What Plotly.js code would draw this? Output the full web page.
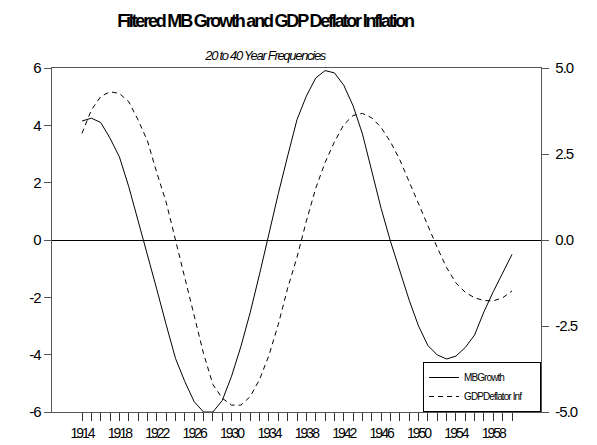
<!DOCTYPE html>
<html>
<head>
<meta charset="utf-8">
<script src="https://cdn.plot.ly/plotly-3.0.1.min.js"></script>
<style>
  html, body { margin: 0; padding: 0; background: #fff; }
  #chart { width: 597px; height: 445px; }
  /* tight, condensed lettering */
  #chart .gtitle { letter-spacing: -2.2px; }
  #chart .annotation-text { letter-spacing: -1.3px; }
  #chart .xtick text { letter-spacing: -2px; }
  #chart .ytick text, #chart .y2tick text { letter-spacing: -1px; }
  #chart .legendtext { letter-spacing: -0.9px; }
</style>
</head>
<body>
<div id="chart"></div>
<script>
// Annual observations, 1914-1960
const years = [
  1914, 1915, 1916, 1917, 1918, 1919, 1920, 1921, 1922, 1923,
  1924, 1925, 1926, 1927, 1928, 1929, 1930, 1931, 1932, 1933,
  1934, 1935, 1936, 1937, 1938, 1939, 1940, 1941, 1942, 1943,
  1944, 1945, 1946, 1947, 1948, 1949, 1950, 1951, 1952, 1953,
  1954, 1955, 1956, 1957, 1958, 1959, 1960
];

// Band-pass filtered monetary base growth (left axis)
const mbGrowth = [
  4.15, 4.25, 4.10, 3.55, 2.90, 1.86, 0.67, -0.49, -1.72, -2.95,
  -4.13, -4.94, -5.64, -6.00, -6.00, -5.60, -4.75, -3.71, -2.52, -1.18,
  0.25, 1.62, 2.93, 4.20, 5.02, 5.65, 5.91, 5.83, 5.40, 4.68,
  3.70, 2.40, 1.10, -0.05, -1.10, -2.10, -3.00, -3.68, -4.01, -4.15,
  -4.05, -3.75, -3.31, -2.50, -1.80, -1.15, -0.50
];

// Band-pass filtered GDP deflator inflation (right axis)
const gdpDeflatorInf = [
  3.10, 3.78, 4.17, 4.31, 4.26, 4.02, 3.49, 2.88, 1.96, 1.10,
  0.00, -1.10, -2.20, -3.30, -4.20, -4.60, -4.80, -4.80, -4.55, -4.05,
  -3.35, -2.45, -1.40, -0.50, 0.55, 1.50, 2.25, 2.85, 3.35, 3.62,
  3.68, 3.55, 3.27, 2.85, 2.33, 1.70, 1.05, 0.40, -0.22, -0.80,
  -1.25, -1.52, -1.68, -1.76, -1.77, -1.68, -1.48
];

// Axis ticks and their labels
const labelledYears = [1914, 1918, 1922, 1926, 1930, 1934, 1938, 1942, 1946, 1950, 1954, 1958];
const leftTicks = [-6, -4, -2, 0, 2, 4, 6];
const leftTickText = ['-6', '-4', '-2', '0', '2', '4', '6'];
const rightTicks = [-5, -2.5, 0, 2.5, 5];
const rightTickText = ['-5.0', '-2.5', '0.0', '2.5', '5.0'];

const xTickText = years.map(y => labelledYears.includes(y) ? String(y) : '');

const FONT = 'Liberation Sans, Arial, sans-serif';
const FRAME = '#555555';

const traces = [
  {
    x: years, y: mbGrowth, name: 'MBGrowth', type: 'scatter', mode: 'lines',
    line: { color: '#000', width: 1 }, yaxis: 'y'
  },
  {
    x: years, y: gdpDeflatorInf, name: 'GDPDeflator Inf', type: 'scatter', mode: 'lines',
    line: { color: '#000', width: 1, dash: '5px,4px' }, yaxis: 'y2'
  }
];

const layout = {
  width: 597, height: 445,
  margin: { l: 52, r: 56, t: 68, b: 33, pad: 0 },
  paper_bgcolor: '#fff', plot_bgcolor: '#fff',
  font: { family: FONT, color: '#000' },
  showlegend: true,
  title: {
    text: '<b>Filtered MB Growth and GDP Deflator Inflation</b>',
    font: { family: FONT, size: 18, color: '#000' },
    xref: 'container', x: 265 / 597, xanchor: 'center',
    yref: 'container', y: 1 - 21 / 445, yanchor: 'middle'
  },
  annotations: [{
    text: '<i>20 to 40 Year Frequencies</i>',
    xref: 'paper', x: (265 - 52) / 489, xanchor: 'center',
    yref: 'paper', y: 1 + 12 / 344, yanchor: 'middle',
    showarrow: false, font: { family: FONT, size: 13, color: '#000' }
  }],
  xaxis: {
    range: [1910.79, 1963.1],
    tickmode: 'array', tickvals: years, ticktext: xTickText,
    ticks: 'outside', ticklen: 8, tickwidth: 1, tickcolor: '#333',
    tickfont: { family: FONT, size: 14, color: '#000' },
    showgrid: false, zeroline: false,
    showline: true, linecolor: FRAME, linewidth: 1.3, mirror: true
  },
  yaxis: {
    range: [-6, 6],
    tickmode: 'array', tickvals: leftTicks, ticktext: leftTickText,
    ticks: 'outside', ticklen: 7, tickwidth: 1, tickcolor: FRAME,
    tickfont: { family: FONT, size: 15, color: '#000' },
    showgrid: false,
    zeroline: true, zerolinecolor: '#000', zerolinewidth: 1,
    showline: true, linecolor: FRAME, linewidth: 1.3, mirror: true
  },
  yaxis2: {
    overlaying: 'y', side: 'right',
    range: [-5, 5],
    tickmode: 'array', tickvals: rightTicks, ticktext: rightTickText,
    ticks: 'outside', ticklen: 7, tickwidth: 1, tickcolor: FRAME,
    ticklabelstandoff: 3,
    tickfont: { family: FONT, size: 15, color: '#000' },
    showgrid: false, zeroline: false,
    showline: true, linecolor: FRAME, linewidth: 1.3
  },
  legend: {
    x: 1, xanchor: 'right', y: 0, yanchor: 'bottom',
    bgcolor: '#fff', bordercolor: '#000', borderwidth: 1,
    font: { family: FONT, size: 10, color: '#000' },
    itemwidth: 30, tracegroupgap: 0
  }
};

Plotly.newPlot('chart', traces, layout, { staticPlot: true, displayModeBar: false });
</script>
</body>
</html>
